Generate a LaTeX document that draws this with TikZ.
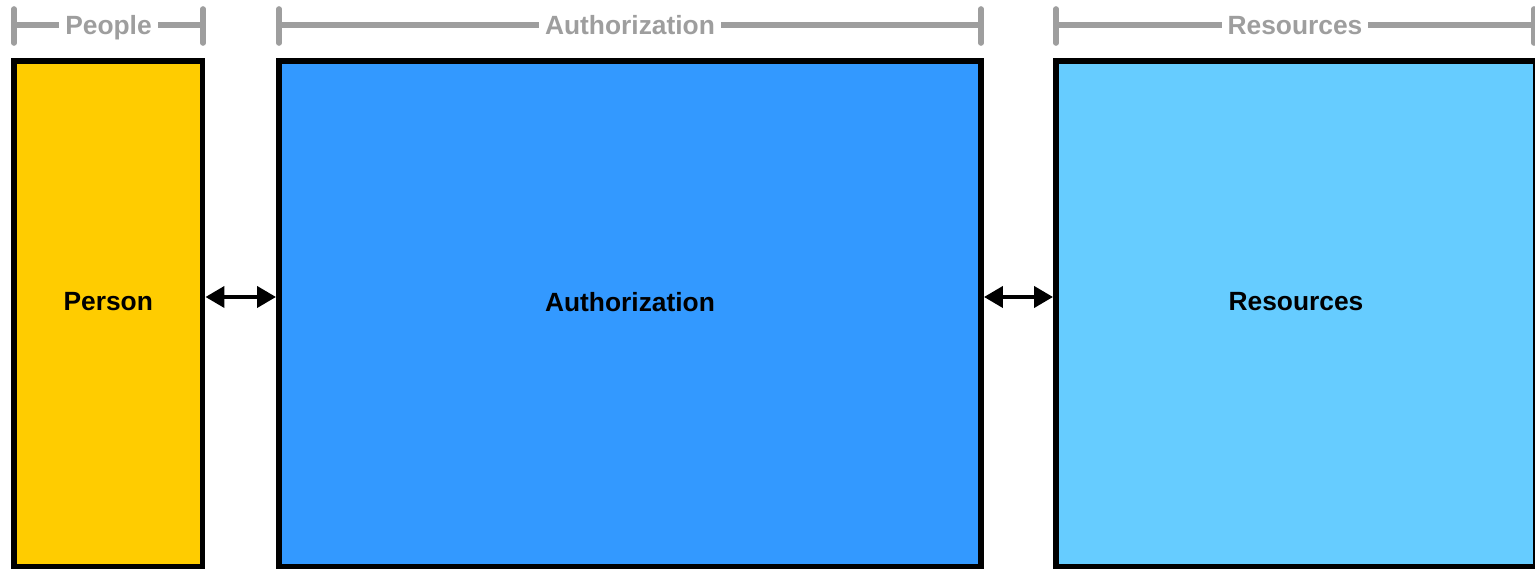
\documentclass[tikz,border=0pt]{standalone}
\usepackage{fontspec}
\setmainfont{Liberation Sans}
\usetikzlibrary{arrows.meta}
\definecolor{personyellow}{HTML}{FFCC00}
\definecolor{authblue}{HTML}{3399FF}
\definecolor{resblue}{HTML}{66CCFF}
\definecolor{bargray}{HTML}{9E9E9E}
\begin{document}
\begin{tikzpicture}[box/.style={draw=black,line width=1.7pt,inner sep=0pt},
  boxtext/.style={font=\fontsize{7.5}{9}\selectfont\bfseries,text=black},
  bar/.style={draw=bargray,line width=1.6pt,line cap=round},
  bartext/.style={font=\fontsize{7.5}{9}\selectfont\bfseries,text=bargray,fill=white,inner xsep=0.06cm,inner ysep=0.02cm,anchor=base},
  link/.style={line width=1.15pt,{Triangle[length=0.19cm,width=0.21cm]}-{Triangle[length=0.19cm,width=0.21cm]}}]
\useasboundingbox (0,0) rectangle (15.35,5.69);
\clip (0,0) rectangle (15.35,5.69);
% brackets on top
\foreach \l/\r/\t/\n in {0.14/2.03/People/people,2.79/9.81/Authorization/authz,10.56/15.34/Resources/res} {
  \draw[bar] (\l,5.60) -- (\l,5.26);
  \draw[bar] (\r,5.60) -- (\r,5.26);
  \draw[bar] (\l,5.44) -- (\r,5.44);
  \node[bartext] (\n) at ({(\l+\r)/2},5.345) {\t};
}
% the three boxes
\node[box,fill=personyellow,minimum width=1.885cm,minimum height=5.055cm] (person) at (1.0825,2.5525) {};
\node[box,fill=authblue,minimum width=7.02cm,minimum height=5.055cm] (auth) at (6.30,2.5525) {};
\node[box,fill=resblue,minimum width=4.80cm,minimum height=5.055cm] (res) at (12.96,2.5525) {};
\node[boxtext] (personlbl) at (1.0825,2.67) {Person};
\node[boxtext] (authlbl) at (6.30,2.67) {Authorization};
\node[boxtext] (reslbl) at (12.96,2.67) {Resources};
% arrows
\coordinate (arrowrow) at (0,2.72);
\draw[link] (person.east |- arrowrow) -- (auth.west |- arrowrow);
\draw[link] (auth.east |- arrowrow) -- (res.west |- arrowrow);
\end{tikzpicture}
\end{document}
